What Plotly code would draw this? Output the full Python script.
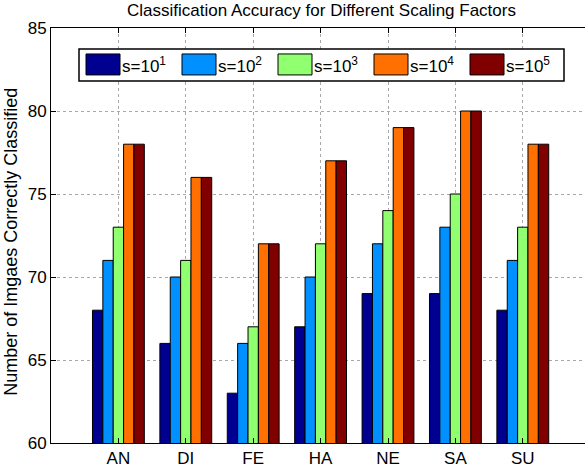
import plotly.graph_objects as go

categories = ["AN", "DI", "FE", "HA", "NE", "SA", "SU"]
series_names = ["s=10<sup>1</sup>", "s=10<sup>2</sup>", "s=10<sup>3</sup>", "s=10<sup>4</sup>", "s=10<sup>5</sup>"]
s1 = [68, 66, 63, 67, 69, 69, 68]
s2 = [71, 70, 66, 70, 72, 73, 71]
s3 = [73, 71, 67, 72, 74, 75, 73]
s4 = [78, 76, 72, 77, 79, 80, 78]
s5 = [78, 76, 72, 77, 79, 80, 78]
series_values = [s1, s2, s3, s4, s5]
colors = ["#000090", "#0090FF", "#90FF70", "#FF7000", "#800000"]
y_ticks = [60, 65, 70, 75, 80, 85]

W, H = 585, 473
L, R, T, B = 51, 585, 28, 443.5

def px(xp):
    return (xp - L) / (R - L)

def py(yp):
    return (B - yp) / (B - T)

xpos = list(range(1, len(categories) + 1))
fig = go.Figure()
for name, vals, c in zip(series_names, series_values, colors):
    fig.add_trace(go.Bar(x=xpos, y=vals, name=name, marker=dict(color=c, line=dict(color="black", width=1)),
                         showlegend=False))

font = "Liberation Sans, Arial, Helvetica, sans-serif"
fig.update_layout(
    width=W, height=H,
    margin=dict(l=L, r=W - R, t=T, b=H - B, pad=0),
    paper_bgcolor="white", plot_bgcolor="white",
    barmode="group", bargap=0.231, bargroupgap=0,
    font=dict(family=font, color="black", size=17),
)
fig.update_xaxes(range=[0, (R - L) / 67.4], tickvals=xpos, ticktext=categories,
                 showline=True, linecolor="black", linewidth=1, mirror="ticks",
                 ticks="inside", ticklen=5, tickcolor="black",
                 showgrid=True, gridcolor="#a8a8a8", griddash="dot", gridwidth=1,
                 zeroline=False, tickfont=dict(size=17))
fig.update_yaxes(range=[60, 85], tickvals=y_ticks,
                 showline=True, linecolor="black", linewidth=1, mirror=False,
                 ticks="inside", ticklen=5, tickcolor="black",
                 showgrid=True, gridcolor="#a8a8a8", griddash="dot", gridwidth=1,
                 zeroline=False, tickfont=dict(size=17))

# Title and y title
fig.add_annotation(text="Classification Accuracy for Different Scaling Factors", xref="paper", yref="paper",
                   x=px(321), y=py(10), showarrow=False, xanchor="center", yanchor="middle",
                   font=dict(size=17, family=font))
fig.add_annotation(text="Number of Imgaes Correctly Classified", xref="paper", yref="paper",
                   x=px(11), y=py(242), showarrow=False, textangle=-90, xanchor="center", yanchor="middle",
                   font=dict(size=18, family=font))

# Legend box
fig.add_shape(type="rect", xref="paper", yref="paper", x0=px(79), x1=px(564), y0=py(49), y1=py(81),
              line=dict(color="black", width=1.5), fillcolor="white", layer="above")
for i, (name, c) in enumerate(zip(series_names, colors)):
    x0 = 86 + i * 96
    fig.add_shape(type="rect", xref="paper", yref="paper", x0=px(x0), x1=px(x0 + 34), y0=py(54), y1=py(75),
                  line=dict(color="black", width=1), fillcolor=c, layer="above")
    fig.add_annotation(text=name, xref="paper", yref="paper", x=px(x0 + 34), y=py(65),
                       showarrow=False, xanchor="left", yanchor="middle", font=dict(size=17, family=font))

fig.write_html("out.html")
